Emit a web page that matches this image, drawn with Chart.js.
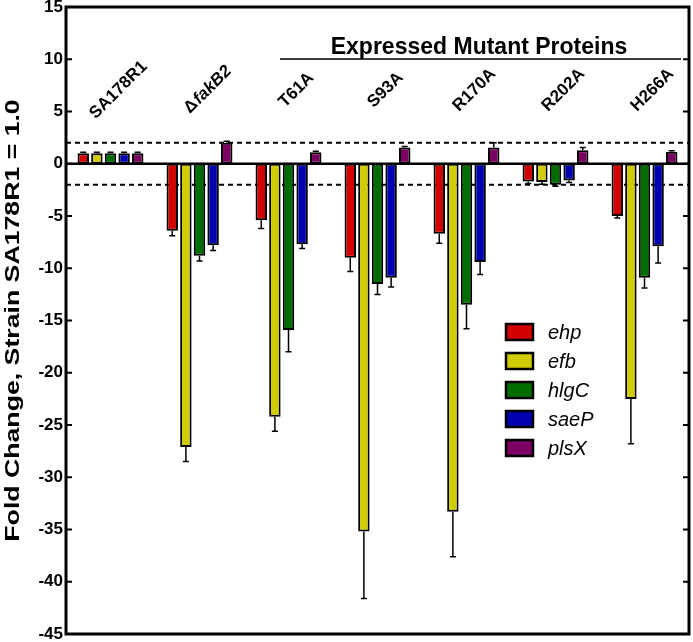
<!DOCTYPE html>
<html lang="en">
<head>
<meta charset="UTF-8">
<title>Fold Change</title>
<script src="https://cdn.jsdelivr.net/npm/chart.js"></script>
<style>
  body { margin: 0; background: #fff; }
</style>
</head>
<body>
<canvas id="grafico" width="693" height="642"></canvas>
<script>
// categories and values
var categorias = ['SA178R1', '\u0394fakB2', 'T61A', 'S93A', 'R170A', 'R202A', 'H266A'];
var genes = ['ehp', 'efb', 'hlgC', 'saeP', 'plsX'];
var cores = ['#d20000', '#d0cc00', '#006d00', '#0000b0', '#7c0062'];

var ehp = [1.0, -6.4, -5.4, -9.0, -6.7, -1.7, -5.0];
var efb = [1.0, -27.1, -24.2, -35.2, -33.3, -1.75, -22.5];
var hlgC = [1.0, -8.8, -15.9, -11.5, -13.5, -2.0, -10.9];
var saeP = [1.0, -7.8, -7.7, -10.9, -9.4, -1.6, -7.9];
var plsX = [1.0, 2.0, 1.1, 1.55, 1.55, 1.3, 1.15];

// error bars (only drawn away from zero)
var ehpErr = [0.1, 0.5, 0.8, 1.3, 0.9, 0.2, 0.2];
var efbErr = [0.1, 1.4, 1.4, 6.4, 4.3, 0.2, 4.3];
var hlgCErr = [0.1, 0.5, 2.1, 1.0, 2.3, 0.15, 1.0];
var saePErr = [0.1, 0.5, 0.4, 0.9, 1.2, 0.2, 1.6];
var plsXErr = [0.1, 0.15, 0.1, 0.1, 0.45, 0.25, 0.1];

var valores = [ehp, efb, hlgC, saeP, plsX];
var erros = [ehpErr, efbErr, hlgCErr, saePErr, plsXErr];

var yTicks = [15, 10, 5, 0, -5, -10, -15, -20, -25, -30, -35, -40, -45];
var limites = [2, -2];
var tituloY = 'Fold Change, Strain SA178R1 = 1.0';

var fonte = '"Liberation Sans", Arial, sans-serif';

const datasets = genes.map(function (g, i) {
    return {
        label: g,
        data: valores[i],
        erro: erros[i],
        backgroundColor: cores[i],
        borderColor: '#000',
        borderWidth: 2,
        borderSkipped: false
    };
});

const extras = {
    id: 'extras',
    beforeDatasetsDraw(chart) {
        const ctx = chart.ctx, a = chart.chartArea, y = chart.scales.y;
        ctx.save();
        ctx.strokeStyle = '#000';
        ctx.lineWidth = 2;
        ctx.setLineDash([5, 4]);
        limites.forEach(function (v) {
            const py = y.getPixelForValue(v);
            ctx.beginPath();
            ctx.moveTo(a.left, py);
            ctx.lineTo(a.right, py);
            ctx.stroke();
        });
        ctx.restore();
    },
    afterDatasetsDraw(chart) {
        const ctx = chart.ctx, a = chart.chartArea, x = chart.scales.x, y = chart.scales.y;
        ctx.save();
        ctx.strokeStyle = '#000';

        // error bars
        ctx.lineWidth = 1.5;
        chart.data.datasets.forEach(function (ds, di) {
            chart.getDatasetMeta(di).data.forEach(function (bar, i) {
                const v = ds.data[i];
                const fim = y.getPixelForValue(v + Math.sign(v) * ds.erro[i]);
                ctx.beginPath();
                ctx.moveTo(bar.x, bar.y);
                ctx.lineTo(bar.x, fim);
                ctx.moveTo(bar.x - 3, fim);
                ctx.lineTo(bar.x + 3, fim);
                ctx.stroke();
            });
        });

        // zero line
        const y0 = y.getPixelForValue(0);
        ctx.lineWidth = 2.5;
        ctx.beginPath();
        ctx.moveTo(a.left, y0);
        ctx.lineTo(a.right, y0);
        ctx.stroke();

        // frame + inward ticks
        ctx.lineWidth = 3;
        ctx.strokeRect(a.left, a.top, a.right - a.left, a.bottom - a.top);
        ctx.lineWidth = 2;
        yTicks.forEach(function (v) {
            const py = y.getPixelForValue(v);
            ctx.beginPath();
            ctx.moveTo(a.left, py);
            ctx.lineTo(a.left + 6, py);
            ctx.moveTo(a.right - 6, py);
            ctx.lineTo(a.right, py);
            ctx.stroke();
        });

        // y title (stretched along its length like the original)
        ctx.fillStyle = '#000';
        ctx.save();
        ctx.translate(19, (a.top + a.bottom) / 2);
        ctx.rotate(-Math.PI / 2);
        ctx.scale(1.27, 1);
        ctx.font = 'bold 21px ' + fonte;
        ctx.textAlign = 'center';
        ctx.textBaseline = 'alphabetic';
        ctx.fillText(tituloY, 0, 0);
        ctx.restore();

        // group labels
        ctx.textBaseline = 'middle';
        categorias.forEach(function (c, i) {
            const cx = x.getPixelForValue(i);
            ctx.save();
            ctx.translate(cx + 8, 90);
            ctx.rotate(-Math.PI / 4);
            if (c.charAt(0) === '\u0394') {
                ctx.font = 'bold 17px ' + fonte;
                const w1 = ctx.measureText('\u0394').width;
                ctx.font = 'italic bold 17px ' + fonte;
                const w2 = ctx.measureText(c.slice(1)).width;
                ctx.textAlign = 'left';
                ctx.font = 'bold 17px ' + fonte;
                ctx.fillText('\u0394', -(w1 + w2) / 2, 0);
                ctx.font = 'italic bold 17px ' + fonte;
                ctx.fillText(c.slice(1), -(w1 + w2) / 2 + w1 + 1, 0);
            } else {
                ctx.font = 'bold 17px ' + fonte;
                ctx.textAlign = 'center';
                ctx.fillText(c, 0, 0);
            }
            ctx.restore();
        });

        // Expressed Mutant Proteins bracket
        ctx.font = 'bold 23px ' + fonte;
        ctx.textAlign = 'center';
        ctx.textBaseline = 'alphabetic';
        ctx.fillText('Expressed Mutant Proteins', 479, 54);
        ctx.lineWidth = 1.5;
        ctx.beginPath();
        ctx.moveTo(280, 59);
        ctx.lineTo(681, 59);
        ctx.stroke();

        // legend
        ctx.textAlign = 'left';
        ctx.textBaseline = 'middle';
        ctx.font = 'italic 20px ' + fonte;
        chart.data.datasets.forEach(function (ds, i) {
            const ly = 332 + i * 29;
            ctx.fillStyle = ds.backgroundColor;
            ctx.fillRect(506, ly - 8, 27, 16);
            ctx.lineWidth = 2.5;
            ctx.strokeRect(506, ly - 8, 27, 16);
            ctx.fillStyle = '#000';
            ctx.fillText(ds.label, 548, ly + 1);
        });
        ctx.restore();
    }
};

const config = {
    type: 'bar',
    data: { labels: categorias, datasets: datasets },
    options: {
        responsive: false,
        animation: false,
        devicePixelRatio: 1,
        layout: { padding: { top: 7, right: 4, bottom: 8, left: 0 } },
        datasets: { bar: { categoryPercentage: 0.765, barPercentage: 0.84 } },
        plugins: { legend: { display: false }, tooltip: { enabled: false } },
        scales: {
            x: { display: false },
            y: {
                min: -45,
                max: 15,
                ticks: {
                    stepSize: 5,
                    color: '#000',
                    padding: 3,
                    font: { family: fonte, size: 17, weight: 'bold' }
                },
                grid: { display: false, tickLength: 0 },
                border: { display: false },
                afterFit: function (s) {
                    s.width = 66;
                    // let the end labels hang over the frame, as in the original
                    s.paddingTop = 0;
                    s.paddingBottom = 0;
                }
            }
        }
    },
    plugins: [extras]
};

const grafico = new Chart(document.getElementById('grafico'), config);
</script>
</body>
</html>
